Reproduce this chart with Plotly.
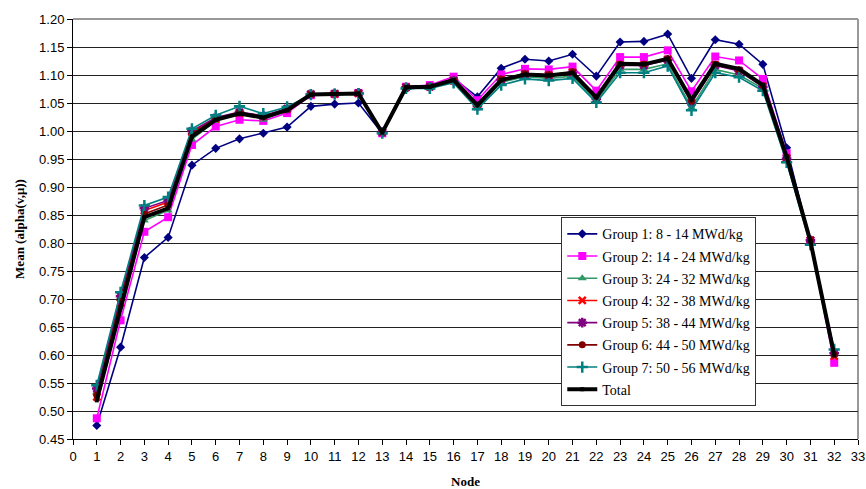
import plotly.graph_objects as go

nodes = list(range(1, 33))

group1 = [0.474, 0.614, 0.774, 0.810, 0.939, 0.969, 0.986, 0.996, 1.007, 1.044, 1.048, 1.050,
          0.996, 1.075, 1.078, 1.094, 1.061, 1.112, 1.128, 1.125, 1.137, 1.098, 1.159, 1.160,
          1.173, 1.094, 1.163, 1.155, 1.119, 0.970, 0.803, 0.603]
group2 = [0.487, 0.662, 0.820, 0.846, 0.975, 1.008, 1.020, 1.018, 1.032, 1.064, 1.066, 1.068,
          0.996, 1.079, 1.082, 1.097, 1.055, 1.101, 1.111, 1.110, 1.115, 1.072, 1.132, 1.132,
          1.144, 1.071, 1.133, 1.126, 1.093, 0.960, 0.803, 0.586]
group3 = [0.535, 0.700, 0.840, 0.858, 0.985, 1.018, 1.035, 1.020, 1.038, 1.066, 1.066, 1.067,
          0.997, 1.077, 1.078, 1.090, 1.042, 1.087, 1.097, 1.094, 1.098, 1.054, 1.110, 1.110,
          1.120, 1.042, 1.110, 1.100, 1.076, 0.946, 0.800, 0.608]
group4 = [0.525, 0.693, 0.858, 0.873, 0.998, 1.022, 1.032, 1.026, 1.039, 1.066, 1.066, 1.067,
          0.998, 1.078, 1.079, 1.090, 1.045, 1.092, 1.102, 1.100, 1.105, 1.058, 1.118, 1.118,
          1.128, 1.052, 1.118, 1.108, 1.080, 0.952, 0.805, 0.598]
group5 = [0.540, 0.705, 0.862, 0.876, 1.000, 1.024, 1.034, 1.027, 1.040, 1.066, 1.067, 1.068,
          0.998, 1.078, 1.079, 1.090, 1.044, 1.091, 1.101, 1.099, 1.104, 1.057, 1.117, 1.117,
          1.127, 1.050, 1.117, 1.107, 1.079, 0.951, 0.805, 0.603]
group6 = [0.528, 0.698, 0.852, 0.868, 0.995, 1.022, 1.033, 1.026, 1.039, 1.066, 1.067, 1.068,
          0.998, 1.078, 1.079, 1.090, 1.045, 1.092, 1.102, 1.100, 1.105, 1.058, 1.119, 1.119,
          1.129, 1.053, 1.119, 1.109, 1.081, 0.953, 0.806, 0.600]
group7 = [0.546, 0.712, 0.867, 0.882, 1.004, 1.028, 1.044, 1.031, 1.043, 1.065, 1.066, 1.067,
          0.996, 1.076, 1.076, 1.086, 1.039, 1.082, 1.093, 1.090, 1.094, 1.051, 1.104, 1.104,
          1.116, 1.037, 1.104, 1.096, 1.072, 0.944, 0.797, 0.610]
total = [0.519, 0.685, 0.846, 0.862, 0.990, 1.020, 1.031, 1.024, 1.037, 1.065, 1.066, 1.067,
         0.997, 1.078, 1.079, 1.091, 1.046, 1.091, 1.101, 1.099, 1.104, 1.060, 1.120, 1.119,
         1.129, 1.056, 1.120, 1.111, 1.082, 0.954, 0.803, 0.600]

series_names = [
    "Group 1: 8 - 14 MWd/kg",
    "Group 2: 14 - 24 MWd/kg",
    "Group 3: 24 - 32 MWd/kg",
    "Group 4: 32 - 38 MWd/kg",
    "Group 5: 38 - 44 MWd/kg",
    "Group 6: 44 - 50 MWd/kg",
    "Group 7: 50 - 56 MWd/kg",
    "Total",
]
series_values = [group1, group2, group3, group4, group5, group6, group7, total]

styles = [
    dict(color="#000080", symbol="diamond", size=7, width=1.6, mline=0),
    dict(color="#FF00FF", symbol="square", size=8, width=1.6, mline=0),
    dict(color="#339966", symbol="triangle-up", size=8, width=1.6, mline=0),
    dict(color="#FF0000", symbol="x-thin-open", size=7, width=1.6, mline=2.5),
    dict(color="#800080", symbol="asterisk-open", size=8, width=1.6, mline=2.5),
    dict(color="#800000", symbol="circle", size=7, width=1.6, mline=0),
    dict(color="#008080", symbol="cross-thin-open", size=8, width=1.6, mline=2.5),
    dict(color="#000000", symbol="square", size=4, width=4, mline=0),
]

fig = go.Figure()
for i, (name, vals, st) in enumerate(zip(series_names, series_values, styles)):
    fig.add_trace(go.Scatter(
        x=nodes, y=vals, name=name, mode="lines+markers", legendgroup=f"g{i}",
        line=dict(color=st["color"], width=st["width"]),
        marker=dict(symbol=st["symbol"], size=st["size"], color=st["color"],
                    line=dict(color=st["color"], width=st["mline"])),
    ))

tick_font = dict(family="Liberation Sans, Arial, sans-serif", size=13, color="#000000")
title_font = dict(family="Liberation Serif, Times New Roman, serif", size=13, color="#000000")

fig.update_layout(
    width=866, height=489,
    margin=dict(l=73, r=8, t=19, b=50),
    paper_bgcolor="white", plot_bgcolor="white",
    showlegend=True,
    legend=dict(
        x=0.622, y=0.528, xanchor="left", yanchor="top",
        bgcolor="white", bordercolor="#333333", borderwidth=1,
        font=dict(family="Liberation Serif, Times New Roman, serif", size=14, color="#000000"),
        tracegroupgap=1, itemwidth=30,
    ),
    xaxis=dict(
        range=[0, 33], dtick=1, tick0=0, showgrid=False, zeroline=False,
        showline=True, linecolor="#000000", linewidth=1,
        ticks="outside", ticklen=5, tickcolor="#000000",
        tickfont=tick_font, automargin=False,
        title=dict(text="<b>Node</b>", font=title_font, standoff=20),
    ),
    yaxis=dict(
        range=[0.45, 1.20], dtick=0.05, tick0=0.45, tickformat=".2f",
        showgrid=True, gridcolor="#222222", gridwidth=1, zeroline=False,
        showline=True, linecolor="#000000", linewidth=1,
        ticks="outside", ticklen=5, tickcolor="#000000",
        tickfont=tick_font, automargin=False,
        title=dict(text="<b>Mean (alpha(v,μ))</b>", font=title_font, standoff=11),
    ),
)

# grey frame on the top and right of the plot area
fig.add_shape(type="line", xref="paper", yref="paper", x0=0, x1=1, y0=1, y1=1,
              line=dict(color="#999999", width=2), layer="below")
fig.add_shape(type="line", xref="paper", yref="paper", x0=1, x1=1, y0=0, y1=1,
              line=dict(color="#999999", width=2), layer="below")

fig.write_html("out.html")
